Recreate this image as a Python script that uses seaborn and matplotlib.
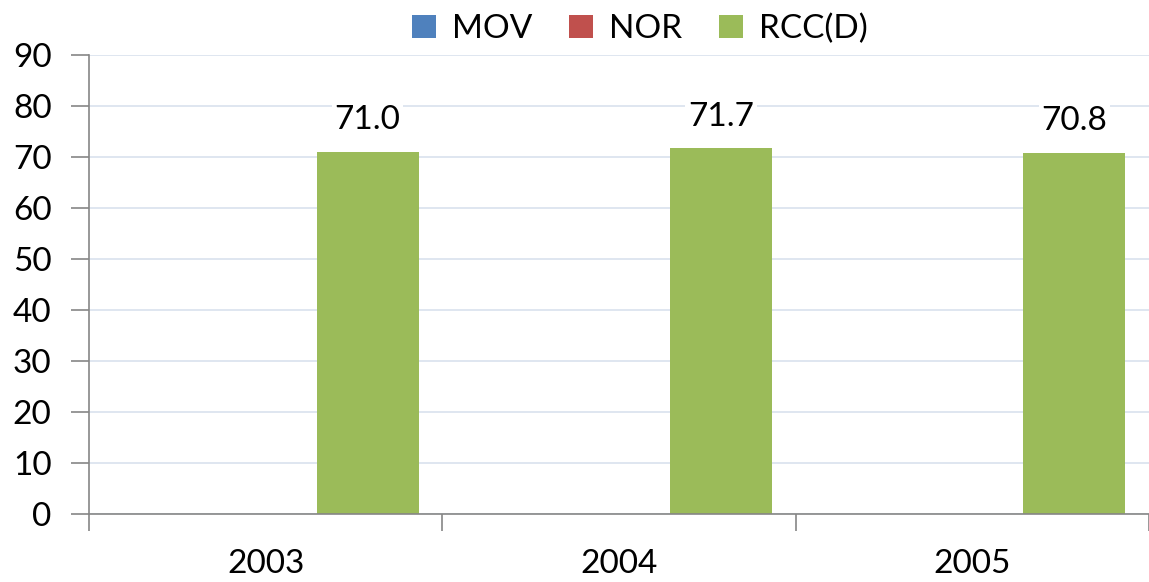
import matplotlib
matplotlib.use('Agg')
import matplotlib.pyplot as plt
import seaborn as sns
import pandas as pd
import numpy as np

# dados
anos = ['2003', '2004', '2005']
series = ['MOV', 'NOR', 'RCC(D)']
mov = [0.0, 0.0, 0.0]
nor = [0.0, 0.0, 0.0]
rcc = [71.0, 71.7, 70.8]
cores = ['#4F81BD', '#C0504D', '#9BBB59']

df = pd.DataFrame({
    'ano': anos * 3,
    'serie': [s for s in series for _ in anos],
    'valor': mov + nor + rcc,
})

sns.set_style('white')
plt.rcParams['font.family'] = ['Lato', 'DejaVu Sans']
plt.rcParams['text.color'] = 'black'
plt.rcParams['xtick.color'] = 'black'
plt.rcParams['ytick.color'] = 'black'

fig = plt.figure(figsize=(11.49, 5.82), dpi=100)
ax = fig.add_axes([0.0775, 0.117, 0.9225, 0.7885])

sns.barplot(data=df, x='ano', y='valor', hue='serie', order=anos,
            hue_order=series, palette=cores, width=0.865, gap=0,
            linewidth=0, saturation=1, errorbar=None, ax=ax)

ax.set_ylim(0, 90)
ax.set_xlim(-0.5, 2.5)
ax.set_yticks(np.arange(0, 91, 10))
ax.yaxis.grid(True, color='#D9E2EE', linewidth=1.2)
ax.set_axisbelow(True)
ax.set_xlabel('')
ax.set_ylabel('')

# marcas do eixo x nas fronteiras das categorias
ax.set_xticks([-0.5, 0.5, 1.5, 2.5], minor=True)
ax.tick_params(axis='x', which='minor', bottom=True, length=12, width=1.2, color='#868686')
ax.tick_params(axis='x', which='major', bottom=True, length=0, pad=25, labelsize=24)
ax.tick_params(axis='y', left=True, length=13, width=1.2, color='#868686', pad=14,
               labelsize=24, labelcolor='black')

for s in ['top', 'right']:
    ax.spines[s].set_visible(False)
for s in ['left', 'bottom']:
    ax.spines[s].set_color('#868686')
    ax.spines[s].set_linewidth(1.2)

# rótulos de valores
cont = ax.containers[2]
ax.bar_label(cont, labels=[f'{v:.1f}' for v in rcc], padding=12, fontsize=24,
             color='black', bbox=dict(facecolor='white', edgecolor='none', pad=2))

sns.move_legend(ax, 'lower center', bbox_to_anchor=(0.52, 0.995), ncol=3,
                frameon=False, title=None, fontsize=24, handlelength=0.7,
                handleheight=0.7, handletextpad=0.5, columnspacing=1.1,
                borderaxespad=0)

fig.savefig('out.png', dpi=100)
